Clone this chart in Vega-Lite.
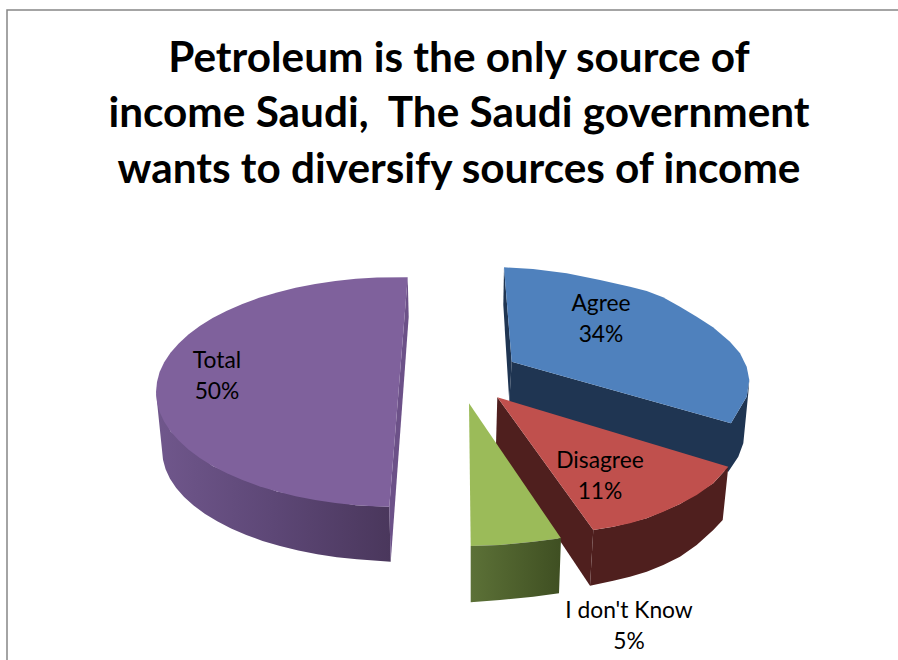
{
"$schema":"https://vega.github.io/schema/vega-lite/v6.json",
"width":898,"height":660,"padding":0,"autosize":{"type":"none"},"background":"white",
"title":{"text":["Petroleum is the only source of","income Saudi, \u00a0The Saudi government","wants to diversify sources of income"],"anchor":"middle","frame":"group","offset":-192,"dx":10,"font":"Lato","fontWeight":"bold","fontSize":42.3,"lineHeight":55.5,"color":"#000000","baseline":"top"},
"config":{"view":{"stroke":null}},
"datasets":{
"slices":[
{"slice":"Agree","share":34,"label":"Agree\n34%","x":152,"y":26},
{"slice":"Disagree","share":11,"label":"Disagree\n11%","x":151,"y":-131},
{"slice":"I don't Know","share":5,"label":"I don't Know\n5%","x":180,"y":-281},
{"slice":"Total","share":50,"label":"Total\n50%","x":-232,"y":-31}
],
"frame":[{"i":0,"x":-442,"y":-330},{"i":1,"x":-442,"y":320},{"i":2,"x":449,"y":320}],
"outline":[
{"face":"Total wall","i":0,"x":-293,"y":-62},{"face":"Total wall","i":1,"x":-278.5,"y":-101.3},{"face":"Total wall","i":2,"x":-236.4,"y":-135.9},{"face":"Total wall","i":3,"x":-172,"y":-161.6},{"face":"Total wall","i":4,"x":-93,"y":-175.3},{"face":"Total wall","i":5,"x":-59.7,"y":-176.7},{"face":"Total wall","i":6,"x":-58.3,"y":-231.7},{"face":"Total wall","i":7,"x":-92,"y":-229.3},{"face":"Total wall","i":8,"x":-112.1,"y":-227.2},{"face":"Total wall","i":9,"x":-131.7,"y":-224.3},{"face":"Total wall","i":10,"x":-150.7,"y":-220.6},{"face":"Total wall","i":11,"x":-169,"y":-216.1},{"face":"Total wall","i":12,"x":-186.4,"y":-210.9},{"face":"Total wall","i":13,"x":-202.7,"y":-205},{"face":"Total wall","i":14,"x":-217.9,"y":-198.5},{"face":"Total wall","i":15,"x":-231.8,"y":-191.3},{"face":"Total wall","i":16,"x":-244.3,"y":-183.7},{"face":"Total wall","i":17,"x":-255.4,"y":-175.5},{"face":"Total wall","i":18,"x":-264.9,"y":-166.9},{"face":"Total wall","i":19,"x":-272.8,"y":-158},{"face":"Total wall","i":20,"x":-279,"y":-148.7},{"face":"Total wall","i":21,"x":-283.4,"y":-139.3},{"face":"Total wall","i":22,"x":-286,"y":-129.7},{"face":"Total wall","i":23,"x":-287,"y":-120},
{"face":"Total edge","i":0,"x":-41.3,"y":52.7},{"face":"Total edge","i":1,"x":-40.3,"y":13.3},{"face":"Total edge","i":2,"x":-58.3,"y":-231.7},{"face":"Total edge","i":3,"x":-59.7,"y":-176.7},
{"face":"Total top","i":0,"x":-41.3,"y":52.7},{"face":"Total top","i":1,"x":-72,"y":52.6},{"face":"Total top","i":2,"x":-93,"y":51.3},{"face":"Total top","i":3,"x":-113.7,"y":49.1},{"face":"Total top","i":4,"x":-133.8,"y":46.1},{"face":"Total top","i":5,"x":-153.4,"y":42.2},{"face":"Total top","i":6,"x":-172,"y":37.6},{"face":"Total top","i":7,"x":-189.9,"y":32.2},{"face":"Total top","i":8,"x":-206.6,"y":26.1},{"face":"Total top","i":9,"x":-222.1,"y":19.3},{"face":"Total top","i":10,"x":-236.4,"y":11.9},{"face":"Total top","i":11,"x":-249.2,"y":4},{"face":"Total top","i":12,"x":-260.6,"y":-4.5},{"face":"Total top","i":13,"x":-270.3,"y":-13.4},{"face":"Total top","i":14,"x":-278.5,"y":-22.7},{"face":"Total top","i":15,"x":-284.8,"y":-32.2},{"face":"Total top","i":16,"x":-289.4,"y":-42},{"face":"Total top","i":17,"x":-292,"y":-52},{"face":"Total top","i":18,"x":-293,"y":-62},{"face":"Total top","i":19,"x":-292,"y":-72},{"face":"Total top","i":20,"x":-289.4,"y":-82},{"face":"Total top","i":21,"x":-284.8,"y":-91.8},{"face":"Total top","i":22,"x":-278.5,"y":-101.3},{"face":"Total top","i":23,"x":-270.3,"y":-110.6},{"face":"Total top","i":24,"x":-260.6,"y":-119.5},{"face":"Total top","i":25,"x":-249.2,"y":-128},{"face":"Total top","i":26,"x":-236.4,"y":-135.9},{"face":"Total top","i":27,"x":-222.1,"y":-143.3},{"face":"Total top","i":28,"x":-206.6,"y":-150.1},{"face":"Total top","i":29,"x":-189.9,"y":-156.2},{"face":"Total top","i":30,"x":-172,"y":-161.6},{"face":"Total top","i":31,"x":-153.4,"y":-166.2},{"face":"Total top","i":32,"x":-133.8,"y":-170.1},{"face":"Total top","i":33,"x":-113.7,"y":-173.1},{"face":"Total top","i":34,"x":-93,"y":-175.3},{"face":"Total top","i":35,"x":-72,"y":-176.6},{"face":"Total top","i":36,"x":-59.7,"y":-176.7},
{"face":"Agree edge","i":0,"x":55,"y":62.7},{"face":"Agree edge","i":1,"x":54.3,"y":25},{"face":"Agree edge","i":2,"x":60.3,"y":-72},{"face":"Agree edge","i":3,"x":62.7,"y":-31.7},
{"face":"Agree wall","i":0,"x":62.7,"y":-31.7},{"face":"Agree wall","i":1,"x":282,"y":-93.3},{"face":"Agree wall","i":2,"x":297.7,"y":-66.7},{"face":"Agree wall","i":3,"x":300.3,"y":-50},{"face":"Agree wall","i":4,"x":299.3,"y":-63},{"face":"Agree wall","i":5,"x":294.3,"y":-113.3},{"face":"Agree wall","i":6,"x":289.3,"y":-126.7},{"face":"Agree wall","i":7,"x":279.3,"y":-141.7},{"face":"Agree wall","i":8,"x":60.3,"y":-72},
{"face":"Agree top","i":0,"x":55,"y":62.7},{"face":"Agree top","i":1,"x":84,"y":61},{"face":"Agree top","i":2,"x":117.7,"y":56.7},{"face":"Agree top","i":3,"x":151,"y":50},{"face":"Agree top","i":4,"x":181,"y":43.3},{"face":"Agree top","i":5,"x":197.7,"y":39},{"face":"Agree top","i":6,"x":214,"y":32.7},{"face":"Agree top","i":7,"x":231,"y":23.3},{"face":"Agree top","i":8,"x":247.7,"y":13.3},{"face":"Agree top","i":9,"x":264,"y":2.7},{"face":"Agree top","i":10,"x":281,"y":-11.7},{"face":"Agree top","i":11,"x":291,"y":-23.3},{"face":"Agree top","i":12,"x":297.7,"y":-36.7},{"face":"Agree top","i":13,"x":300.3,"y":-50},{"face":"Agree top","i":14,"x":297.7,"y":-66.7},{"face":"Agree top","i":15,"x":282,"y":-93.3},{"face":"Agree top","i":16,"x":62.7,"y":-31.7},
{"face":"Disagree side","i":0,"x":48.3,"y":-67.3},{"face":"Disagree side","i":1,"x":47,"y":-115},{"face":"Disagree side","i":2,"x":141,"y":-255.7},{"face":"Disagree side","i":3,"x":144.3,"y":-200},
{"face":"Disagree wall","i":0,"x":144.3,"y":-200},{"face":"Disagree wall","i":1,"x":164.3,"y":-196.7},{"face":"Disagree wall","i":2,"x":197.7,"y":-188.3},{"face":"Disagree wall","i":3,"x":231,"y":-174},{"face":"Disagree wall","i":4,"x":264.3,"y":-153.3},{"face":"Disagree wall","i":5,"x":279.3,"y":-136.7},{"face":"Disagree wall","i":6,"x":273.7,"y":-190},{"face":"Disagree wall","i":7,"x":264.3,"y":-200},{"face":"Disagree wall","i":8,"x":247.7,"y":-215},{"face":"Disagree wall","i":9,"x":231,"y":-226.7},{"face":"Disagree wall","i":10,"x":214.3,"y":-235},{"face":"Disagree wall","i":11,"x":197.7,"y":-241.7},{"face":"Disagree wall","i":12,"x":181,"y":-246.7},{"face":"Disagree wall","i":13,"x":164.3,"y":-250.7},{"face":"Disagree wall","i":14,"x":141,"y":-255.7},
{"face":"Disagree top","i":0,"x":48.3,"y":-67.3},{"face":"Disagree top","i":1,"x":279.3,"y":-136.7},{"face":"Disagree top","i":2,"x":264.3,"y":-153.3},{"face":"Disagree top","i":3,"x":247.7,"y":-165},{"face":"Disagree top","i":4,"x":231,"y":-174},{"face":"Disagree top","i":5,"x":214.3,"y":-181.7},{"face":"Disagree top","i":6,"x":197.7,"y":-188.3},{"face":"Disagree top","i":7,"x":181,"y":-193.3},{"face":"Disagree top","i":8,"x":164.3,"y":-196.7},{"face":"Disagree top","i":9,"x":144.3,"y":-200},
{"face":"Know wall","i":0,"x":21.7,"y":-216},{"face":"Know wall","i":1,"x":51,"y":-215},{"face":"Know wall","i":2,"x":84.3,"y":-211.7},{"face":"Know wall","i":3,"x":112,"y":-208.3},{"face":"Know wall","i":4,"x":110,"y":-263.3},{"face":"Know wall","i":5,"x":84.3,"y":-266.7},{"face":"Know wall","i":6,"x":51,"y":-270},{"face":"Know wall","i":7,"x":21.7,"y":-272.3},
{"face":"Know top","i":0,"x":20,"y":-73.3},{"face":"Know top","i":1,"x":112,"y":-208.3},{"face":"Know top","i":2,"x":84.3,"y":-211.7},{"face":"Know top","i":3,"x":51,"y":-215},{"face":"Know top","i":4,"x":21.7,"y":-216}
]},
"encoding":{
 "x":{"field":"x","type":"quantitative","scale":{"domain":[-449,449]},"axis":null},
 "y":{"field":"y","type":"quantitative","scale":{"domain":[-330,330]},"axis":null}
},
"layer":[
{"data":{"name":"frame"},
 "mark":{"type":"line","stroke":"#868686","strokeWidth":1.5},
 "encoding":{"order":{"field":"i"}}},
{"data":{"name":"outline"},
 "transform":[{"filter":"datum.face === 'Total wall'"}],
 "mark":{"type":"line","strokeWidth":0,"fill":{"gradient":"linear","x1":0,"y1":0,"x2":1,"y2":0,"stops":[{"offset":0,"color":"#70578c"},{"offset":0.5,"color":"#5d4776"},{"offset":1,"color":"#4a375c"}]}},
 "encoding":{"order":{"field":"i"}}},
{"data":{"name":"outline"},
 "transform":[{"filter":"datum.face !== 'Total wall' && datum.face !== 'Know wall'"}],
 "mark":{"type":"line","strokeWidth":0},
 "encoding":{
  "order":{"field":"i"},
  "fill":{"field":"face","type":"nominal","legend":null,"scale":{
   "domain":["Total edge","Total top","Agree edge","Agree wall","Agree top","Disagree side","Disagree wall","Disagree top","Know top"],
   "range":["#6c5188","#7f619c","#1f3552","#1f3552","#4f81bd","#4f1f1e","#4f1f1e","#c0504d","#9bbb59"]}}}},
{"data":{"name":"outline"},
 "transform":[{"filter":"datum.face === 'Know wall'"}],
 "mark":{"type":"line","strokeWidth":0,"fill":{"gradient":"linear","x1":0,"y1":0,"x2":1,"y2":0,"stops":[{"offset":0,"color":"#5c7137"},{"offset":1,"color":"#3f4f22"}]}},
 "encoding":{"order":{"field":"i"}}},
{"data":{"name":"slices"},
 "mark":{"type":"text","font":"Lato","fontSize":22.8,"lineBreak":"\n","lineHeight":31,"color":"#000000","baseline":"middle"},
 "encoding":{"text":{"field":"label"}}}
]
}
